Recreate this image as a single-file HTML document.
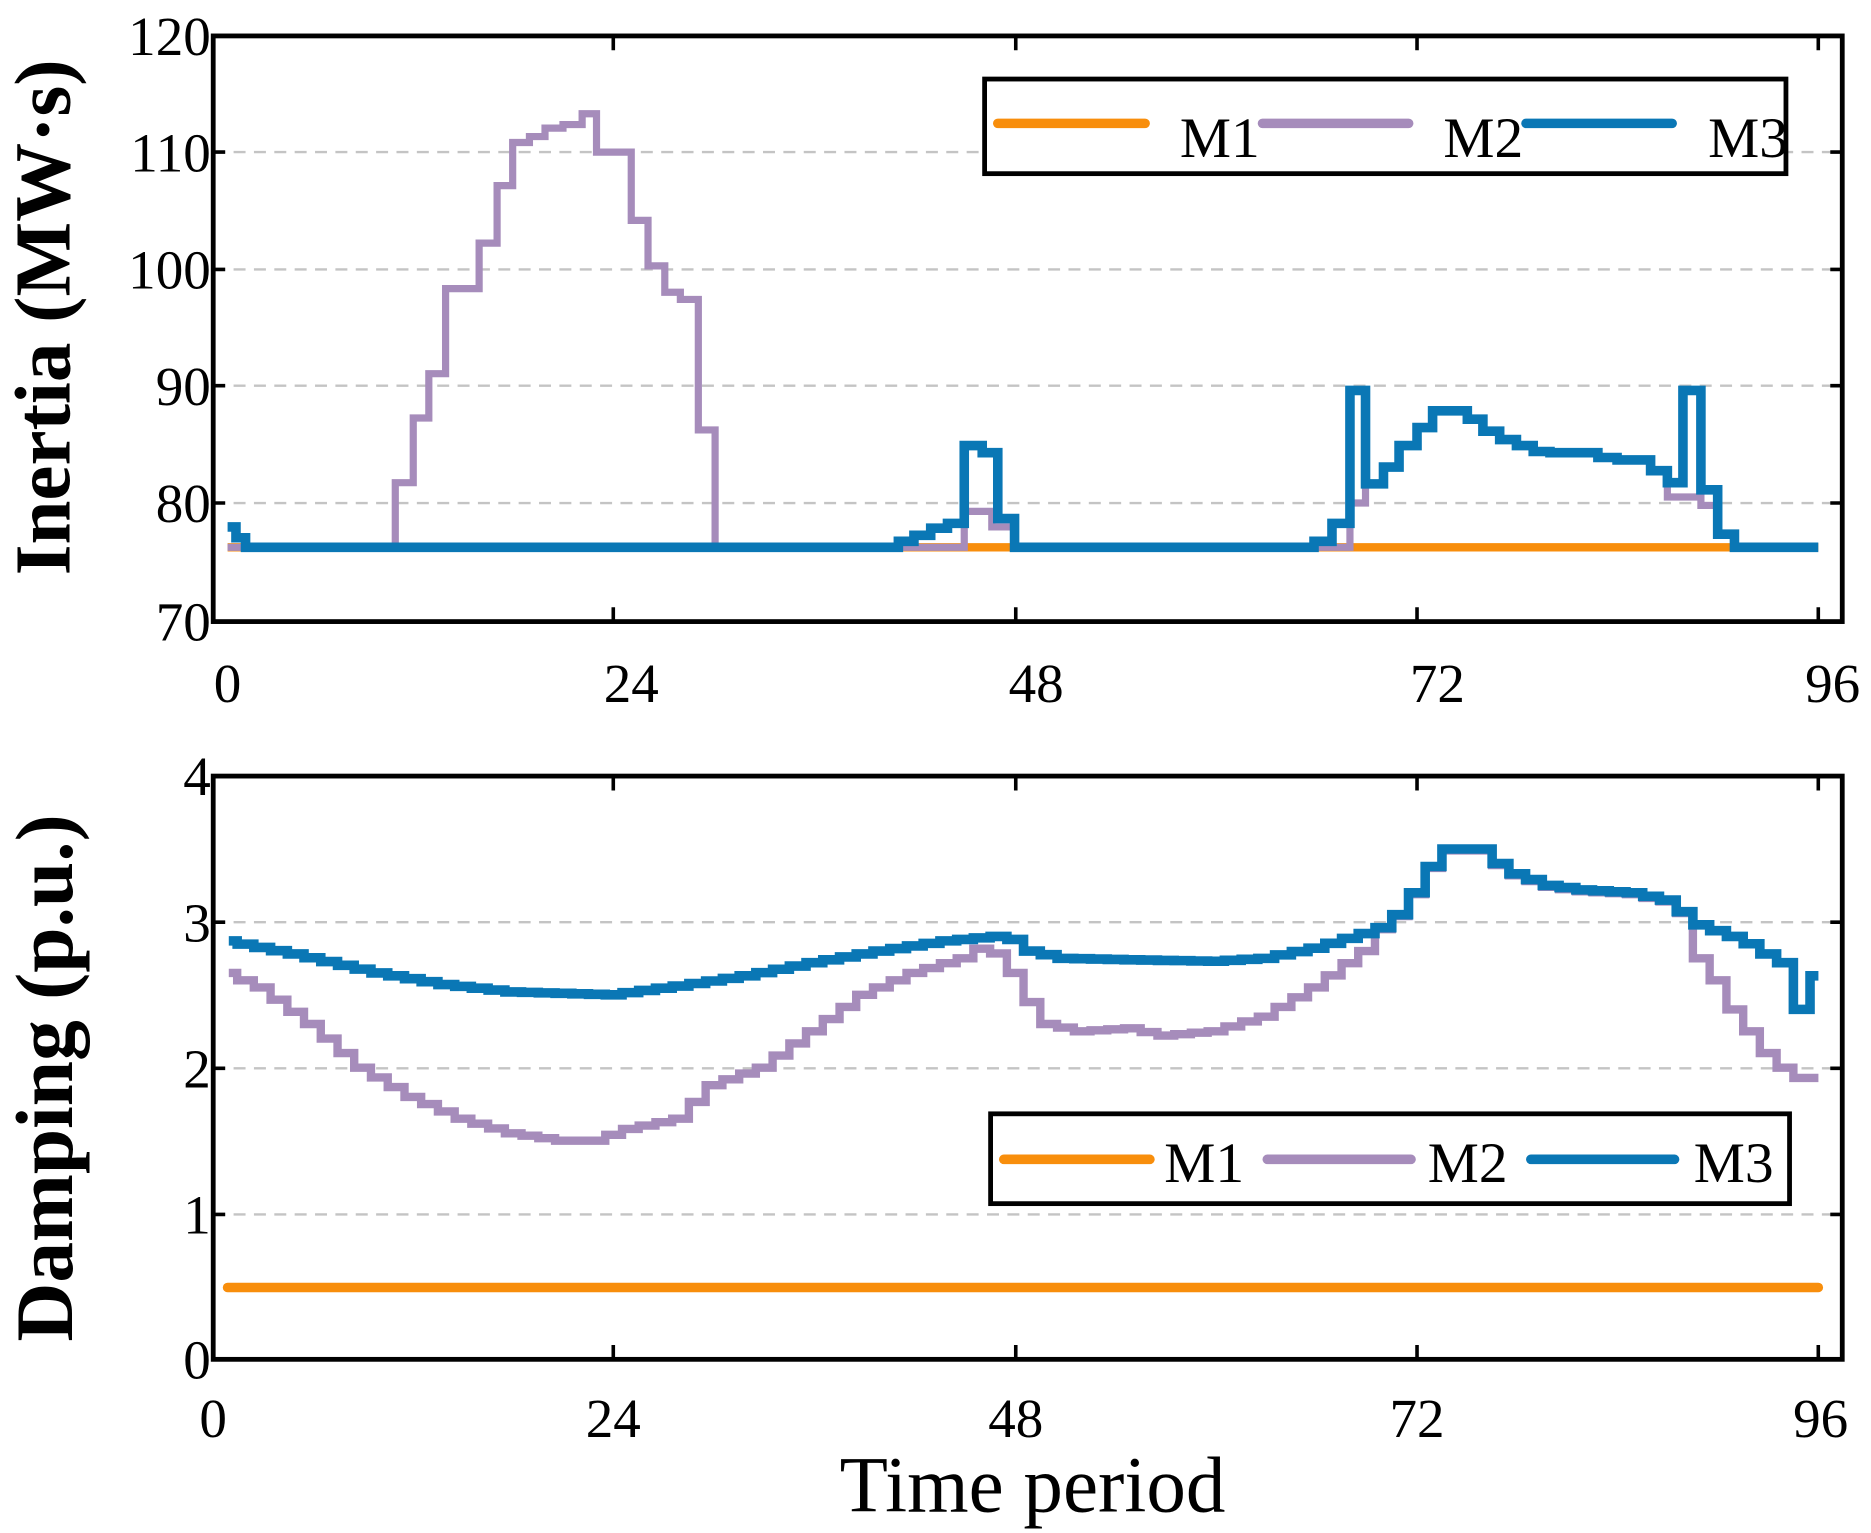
<!DOCTYPE html>
<html><head><meta charset="utf-8"><style>
html,body{margin:0;padding:0;background:#fff;}
svg{display:block;}
text{font-family:"Liberation Serif",serif;fill:#000;}
</style></head><body>
<svg id="s" width="1871" height="1533" viewBox="0 0 1562 1280" preserveAspectRatio="none" xmlns="http://www.w3.org/2000/svg">
<g stroke="#c4c4c4" stroke-width="2" stroke-dasharray="10,7">
<line x1="178" y1="127" x2="1538" y2="127"/><line x1="178" y1="225" x2="1538" y2="225"/>
<line x1="178" y1="322" x2="1538" y2="322"/><line x1="178" y1="420" x2="1538" y2="420"/>
<line x1="178" y1="770" x2="1538" y2="770"/><line x1="178" y1="892" x2="1538" y2="892"/>
<line x1="178" y1="1014" x2="1538" y2="1014"/>
</g>
<g fill="none" stroke-linejoin="miter" stroke-linecap="butt">
<path d="M190,457 H1518" stroke="#f88e0c" stroke-width="7"/>
<path d="M190,457 H330 V403 H345 V349 H358 V312 H372 V241 H400 V203 H415 V155 H428 V119 H442 V114 H455 V107 H470 V104 H486 V95 H498 V127 H527 V184 H541 V222 H555 V244 H568 V250 H583 V359 H597 V457 H805 V427 H828 V440 H847 V457 H1127 V420 H1140 V404 H1155 V390 H1168 V372 H1183 V357 H1196 V343 H1225 V350 H1238 V360 H1252 V367 H1266 V372 H1280 V377 H1294 V378 H1334 V382 H1350 V384 H1378 V393 H1392 V415 H1420 V422 H1434 V446 H1448 V457" stroke="#a68cbb" stroke-width="6"/>
<path d="M190,440 H197 V449 H205 V457 H750 V452 H763 V447 H777 V441 H791 V437 H805 V372 H820 V378 H833 V433 H847 V457 H1097 V452 H1112 V437 H1127 V326 H1140 V404 H1155 V390 H1168 V372 H1183 V357 H1196 V343 H1225 V350 H1238 V360 H1252 V367 H1266 V372 H1280 V377 H1294 V378 H1334 V382 H1350 V384 H1378 V393 H1392 V403 H1405 V326 H1420 V409 H1434 V446 H1448 V457 H1518" stroke="#0a77b5" stroke-width="8"/>
<path d="M190,1075 H1518" stroke="#f88e0c" stroke-width="8" stroke-linecap="round"/>
<path id="b2" stroke="#a68cbb" stroke-width="7"/>
<path id="b3" stroke="#0a77b5" stroke-width="8"/>
</g>
<g fill="none" stroke="#000" stroke-width="4">
<rect x="178" y="30" width="1360" height="489"/>
<rect x="178" y="648" width="1360" height="487"/>
</g>
<g stroke="#000" stroke-width="3">
<path d="M512,30v12M848,30v12M1183,30v12M1518,30v12M512,519v-12M848,519v-12M1183,519v-12M1518,519v-12"/>
<path d="M178,127h10M178,225h10M178,322h10M178,420h10M1538,127h-10M1538,225h-10M1538,322h-10M1538,420h-10"/>
<path d="M512,648v12M848,648v12M1183,648v12M1518,648v12M512,1135v-12M848,1135v-12M1183,1135v-12M1518,1135v-12"/>
<path d="M178,770h10M178,892h10M178,1014h10M1538,770h-10M1538,892h-10M1538,1014h-10"/>
</g>
<g font-size="46" text-anchor="end">
<text x="176" y="46">120</text><text x="176" y="143">110</text><text x="176" y="241">100</text>
<text x="176" y="338">90</text><text x="176" y="436">80</text><text x="176" y="535">70</text>
<text x="176" y="664">4</text><text x="176" y="786">3</text><text x="176" y="908">2</text>
<text x="176" y="1030">1</text><text x="176" y="1151">0</text>
</g>
<g font-size="46" text-anchor="middle">
<text x="190" y="586">0</text><text x="527" y="586">24</text><text x="865" y="586">48</text><text x="1200" y="586">72</text><text x="1530" y="586">96</text>
<text x="178" y="1200">0</text><text x="512" y="1200">24</text><text x="848" y="1200">48</text><text x="1183" y="1200">72</text><text x="1520" y="1200">96</text>
</g>
<text font-size="66" font-weight="bold" text-anchor="middle" transform="translate(58,265) rotate(-90)">Inertia (MW·s)</text>
<text font-size="68" font-weight="bold" text-anchor="middle" transform="translate(60,900) rotate(-90)">Damping (p.u.)</text>
<text font-size="66" text-anchor="middle" x="862" y="1262">Time period</text>
<rect x="822" y="66" width="669" height="79" fill="#fff" stroke="#000" stroke-width="4"/>
<g stroke-width="8" stroke-linecap="round">
<line x1="833" y1="103" x2="956" y2="103" stroke="#f88e0c"/>
<line x1="1054" y1="103" x2="1176" y2="103" stroke="#a68cbb"/>
<line x1="1274" y1="103" x2="1396" y2="103" stroke="#0a77b5"/>
</g>
<g font-size="48"><text x="985" y="131">M1</text><text x="1205" y="131">M2</text><text x="1426" y="131">M3</text></g>
<rect x="827" y="930" width="667" height="75" fill="#fff" stroke="#000" stroke-width="4"/>
<g stroke-width="8" stroke-linecap="round">
<line x1="838" y1="968" x2="960" y2="968" stroke="#f88e0c"/>
<line x1="1058" y1="968" x2="1178" y2="968" stroke="#a68cbb"/>
<line x1="1278" y1="968" x2="1398" y2="968" stroke="#0a77b5"/>
</g>
<g font-size="48"><text x="972" y="987">M1</text><text x="1192" y="987">M2</text><text x="1414" y="987">M3</text></g>
</svg>
<script>
function interp(k,t){for(var i=0;i<k.length-1;i++){if(t>=k[i][0]&&t<=k[i+1][0]){var a=k[i],b=k[i+1];return a[1]+(b[1]-a[1])*(t-a[0])/(b[0]-a[0]);}}return k[k.length-1][1];}
function X(t){return 177+13.97*t;}function Y(v){return 1135-121.75*v;}
var m3=[[1,2.87],[5,2.78],[10,2.65],[14,2.57],[18,2.52],[24,2.5],[28,2.56],[32,2.63],[36,2.72],[40,2.8],[44,2.87],[47,2.9],[48,2.88],[49,2.8],[51,2.75],[55,2.74],[60,2.73],[63,2.75],[66,2.82],[69,2.92],[70,2.96],[71,3.05],[72,3.2],[73,3.38],[74,3.5],[76,3.5],[77,3.4],[78,3.33],[80,3.25],[82,3.22],[85,3.2],[87,3.15],[88,3.07],[89,2.98],[91,2.9],[92,2.85],[93,2.78],[94,2.72],[94.6,2.4],[95,2.4],[95.4,2.63],[96,2.63]];
var m2=[[1,2.65],[3,2.55],[6,2.3],[9,2.0],[12,1.8],[15,1.65],[18,1.55],[21,1.5],[23,1.5],[25,1.58],[28,1.65],[30,1.88],[33,2.0],[36,2.25],[39,2.5],[42,2.65],[45,2.75],[46.5,2.85],[48,2.65],[49,2.45],[50,2.3],[52,2.25],[55,2.27],[57,2.22],[60,2.25],[63,2.35],[66,2.55],[69,2.8],[70,2.95],[88,2.9],[90,2.6],[91,2.4],[92,2.25],[93,2.1],[94,2.0],[95,1.93],[96,1.93]];
function f2(t){if(t>70&&t<89)return interp(m3,t)-0.01;return interp(m2,t);}
function f3(t){return interp(m3,t);}
function path(f){var d="M"+X(1).toFixed(1)+","+Y(f(1)).toFixed(1);
for(var t=2;t<=96;t++){d+=" H"+X(t-0.5).toFixed(1)+" V"+Y(f(t)).toFixed(1);}d+=" H"+X(96).toFixed(1);return d;}
document.getElementById("b2").setAttribute("d",path(f2));
document.getElementById("b3").setAttribute("d",path(f3));
</script>
</body></html>
